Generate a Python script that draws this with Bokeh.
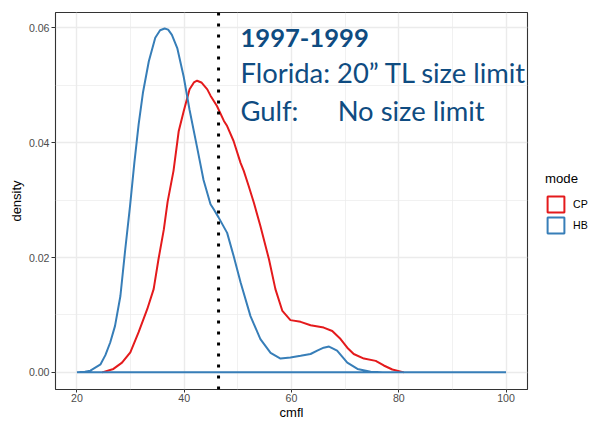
from bokeh.plotting import figure
from bokeh.layouts import row
from bokeh.models import (Range1d, FixedTicker, Span, Label, Legend, LegendItem)
from bokeh.embed import file_html
from bokeh.resources import INLINE

# ---- data ----
modes = ["CP", "HB"]
mode_colors = ["#E41A1C", "#377EB8"]

cp_x = [24.7, 26.8, 28.4, 29.95, 31.5, 33.1, 34.3, 35.2, 36.2, 36.9, 38.0, 38.97, 39.9,
        41.0, 41.8, 42.4, 43.2, 44.3, 44.9, 46.1, 47.4, 48.0, 49.2, 50.5, 51.1, 52.0,
        53.0, 54.2, 55.8, 57.0, 58.3, 59.8, 61.7, 63.55, 66.0, 67.6, 69.15, 70.4, 71.6,
        73.5, 75.7, 77.2, 78.8, 80.95]
cp_y = [0.0, 0.0006, 0.0017, 0.0035, 0.0070, 0.0110, 0.0145, 0.0197, 0.0249, 0.0297,
        0.0351, 0.0420, 0.0455, 0.0493, 0.0505, 0.0508, 0.0505, 0.0493, 0.0482, 0.0464,
        0.0438, 0.0429, 0.0403, 0.0365, 0.0351, 0.0325, 0.0295, 0.0255, 0.0197, 0.0145,
        0.0107, 0.0091, 0.0088, 0.0082, 0.0078, 0.0072, 0.0058, 0.0043, 0.0032, 0.0024,
        0.0020, 0.0012, 0.0005, 0.0]

hb_x = [20, 21.5, 22.5, 24.4, 25.3, 26.2, 27.1, 28.1, 29.0, 29.9, 30.7, 31.5, 32.3, 33.4,
        34.6, 35.5, 36.35, 37.0, 37.7, 38.7, 39.9, 41.0, 42.4, 43.6, 44.9, 45.5, 46.4,
        48.0, 49.2, 50.5, 52.35, 54.2, 56.1, 57.95, 59.8, 61.7, 63.55, 64.8, 66.0, 67.0,
        68.5, 70.4, 72.3, 74.75, 77, 80, 90, 100]
hb_y = [0, 0.0001, 0.0003, 0.0014, 0.0030, 0.0052, 0.0081, 0.0133, 0.0214, 0.0290,
        0.0365, 0.0432, 0.0487, 0.0542, 0.0583, 0.0596, 0.0599, 0.0597, 0.0588, 0.0565,
        0.0515, 0.0457, 0.0392, 0.0335, 0.0293, 0.0284, 0.0270, 0.0243, 0.0203, 0.0157,
        0.0098, 0.0058, 0.0034, 0.0024, 0.0026, 0.0029, 0.0032, 0.0038, 0.0043, 0.0045,
        0.0038, 0.0017, 0.0006, 0.0001, 0, 0, 0, 0]

x_ticks = [20, 40, 60, 80, 100]
x_minor = [30, 50, 70, 90]
y_ticks = [0.0, 0.02, 0.04, 0.06]
y_minor = [0.01, 0.03, 0.05]
y_tick_labels = {0.0: "0.00", 0.02: "0.02", 0.04: "0.04", 0.06: "0.06"}

size_limit_x = 46.4

note_title = "1997-1999"
note_florida = "Florida: 20\u201d TL size limit"
note_gulf = "Gulf:"
note_gulf_value = "No size limit"

# ---- main panel ----
p = figure(width=529, height=422, output_backend="svg", toolbar_location=None,
           x_range=Range1d(16, 104), y_range=Range1d(-0.002985, 0.062685),
           min_border_left=55, min_border_right=2, min_border_top=12, min_border_bottom=31)
p.background_fill_color = "white"
p.border_fill_color = "white"
p.outline_line_color = "#333333"
p.outline_line_width = 1.1

FONT = "Liberation Sans"
for ax in (p.xaxis[0], p.yaxis[0]):
    ax.axis_line_color = None
    ax.major_tick_line_color = "#333333"
    ax.major_tick_line_width = 1
    ax.major_tick_in = 0
    ax.major_tick_out = 4
    ax.minor_tick_line_color = None
    ax.major_label_text_font = FONT
    ax.major_label_text_font_size = "10.6px"
    ax.major_label_text_color = "#4D4D4D"
    ax.axis_label_text_font = FONT
    ax.axis_label_text_font_size = "13px"
    ax.axis_label_text_font_style = "normal"
    ax.axis_label_text_color = "black"

p.xaxis.ticker = FixedTicker(ticks=x_ticks, minor_ticks=x_minor)
p.yaxis.ticker = FixedTicker(ticks=y_ticks, minor_ticks=y_minor)
p.yaxis.major_label_overrides = y_tick_labels
p.xaxis.axis_label = "cmfl"
p.yaxis.axis_label = "density"
p.xaxis.major_tick_out = 3
p.xaxis.major_label_standoff = 0
p.xaxis.axis_label_standoff = 0
p.yaxis.major_label_standoff = 2
p.yaxis.axis_label_standoff = 2

for g in (p.xgrid[0], p.ygrid[0]):
    g.grid_line_color = "#EBEBEB"
    g.grid_line_width = 1.4
    g.minor_grid_line_color = "#EBEBEB"
    g.minor_grid_line_width = 0.7

# CP outline (its baseline lies under HB's), then HB closed outline
p.line(cp_x, cp_y, line_color=mode_colors[0], line_width=2)
p.patch(hb_x, hb_y, fill_alpha=0, line_color=mode_colors[1], line_width=2)

p.add_layout(Span(location=size_limit_x, dimension="height", line_color="black",
                  line_width=3, line_dash="3 8"))

TXT = "#0f4c81"
NOTE_FONT = "Lato"
p.add_layout(Label(x=50.48, y=0.05825, text=note_title, text_font=NOTE_FONT,
                   text_font_size="25.6px", text_font_style="bold", text_color=TXT,
                   text_baseline="alphabetic", text_align="left"))
p.add_layout(Label(x=50.48, y=0.0523, text=note_florida, text_font=NOTE_FONT,
                   text_font_size="27.4px", text_color=TXT,
                   text_baseline="alphabetic", text_align="left"))
p.add_layout(Label(x=50.48, y=0.0457, text=note_gulf, text_font=NOTE_FONT,
                   text_font_size="27.4px", text_color=TXT,
                   text_baseline="alphabetic", text_align="left"))
p.add_layout(Label(x=68.6, y=0.0457, text=note_gulf_value, text_font=NOTE_FONT,
                   text_font_size="27.4px", text_color=TXT,
                   text_baseline="alphabetic", text_align="left"))

# ---- legend strip (key renderers drawn outside its view) ----
lp = figure(width=62, height=422, output_backend="svg", toolbar_location=None,
            x_axis_type=None, y_axis_type=None, min_border=0,
            x_range=Range1d(16, 104), y_range=Range1d(1, 2))
lp.outline_line_color = None
lp.background_fill_color = "white"
lp.border_fill_color = "white"
lp.xgrid.visible = False
lp.ygrid.visible = False
keys = [lp.patch(xs, ys, fill_alpha=0, line_color=c, line_width=2)
        for xs, ys, c in zip([cp_x, hb_x], [cp_y, hb_y], mode_colors)]

legend = Legend(items=[LegendItem(label=m, renderers=[k]) for m, k in zip(modes, keys)],
                location=(16, 154), title="mode",
                title_text_font=FONT, title_text_font_size="13.2px",
                title_text_font_style="normal", title_text_color="black",
                title_standoff=8,
                label_text_font=FONT, label_text_font_size="10.6px",
                label_text_color="black", label_standoff=7,
                glyph_width=21, glyph_height=20, spacing=1, padding=0, margin=0,
                border_line_color=None, background_fill_alpha=0)
lp.add_layout(legend, "center")

layout = row(p, lp, spacing=0)
open("out.html", "w").write(file_html(layout, INLINE))
